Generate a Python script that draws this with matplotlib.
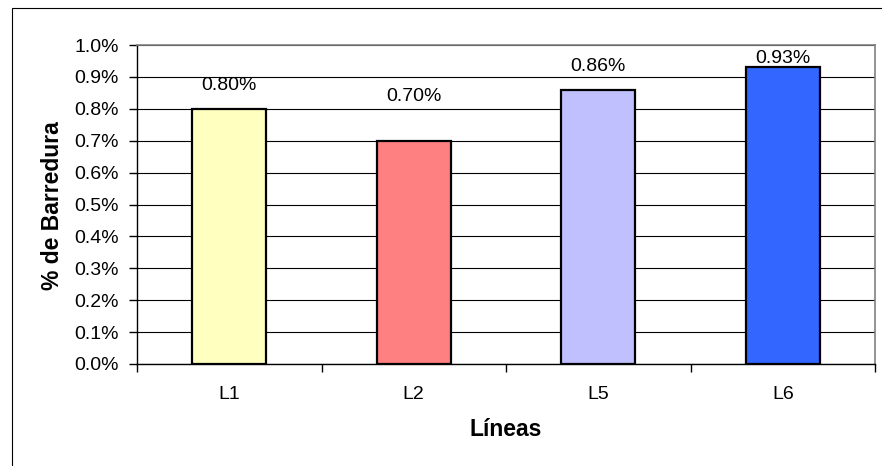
import matplotlib
matplotlib.use("Agg")
import matplotlib.pyplot as plt
from matplotlib.patches import Rectangle
from matplotlib.ticker import FuncFormatter, FixedLocator

# Data (values in percent)
categories = ["L1", "L2", "L5", "L6"]
barredura = [0.80, 0.70, 0.86, 0.93]
bar_colors = ["#FFFFC0", "#FF8080", "#C0C0FF", "#3366FF"]
# vertical placement of the value labels (in axis units)
label_y = [0.874, 0.838, 0.933, 0.958]
y_ticks = [0.0, 0.1, 0.2, 0.3, 0.4, 0.5, 0.6, 0.7, 0.8, 0.9, 1.0]

plt.rcParams["font.family"] = ["Liberation Sans", "DejaVu Sans"]

W, H = 882, 466
fig = plt.figure(figsize=(W / 100, H / 100), dpi=100)
fig.patch.set_facecolor("white")

# chart frame
fig.patches.append(Rectangle((12 / W, -0.1), 1.2, (H - 8) / H + 0.1,
                             transform=fig.transFigure, fill=False,
                             edgecolor="black", linewidth=0.8, clip_on=False))

ax = fig.add_axes([137 / W, (H - 364) / H, (875 - 137) / W, (364 - 45) / H])
x = list(range(len(categories)))
ax.bar(x, barredura, width=0.4, color=bar_colors, edgecolor="black",
       linewidth=1.6, zorder=3)

for xi, v, ly in zip(x, barredura, label_y):
    ax.text(xi, ly, f"{v:.2f}%", ha="center", va="center", fontsize=14,
            zorder=4)

ax.set_xlim(-0.5, 3.5)
ax.set_ylim(0, 1.0)
ax.set_yticks(y_ticks)
ax.yaxis.set_major_formatter(FuncFormatter(lambda v, p: f"{v:.1f}%"))
ax.yaxis.grid(True, color="black", linewidth=0.8, zorder=0)
ax.set_axisbelow(True)

# category labels centred, tick marks at category boundaries
ax.set_xticks(x)
ax.set_xticklabels(categories, fontsize=14)
ax.tick_params(axis="x", which="major", length=0, pad=16)
ax.xaxis.set_minor_locator(FixedLocator([-0.5, 0.5, 1.5, 2.5, 3.5]))
ax.tick_params(axis="x", which="minor", length=6, width=1, color="black")
ax.tick_params(axis="y", length=6, width=1, color="black", labelsize=14,
               pad=7)

for side in ("top", "right"):
    ax.spines[side].set_color("#808080")
    ax.spines[side].set_linewidth(1.2)
for side in ("left", "bottom"):
    ax.spines[side].set_color("black")
    ax.spines[side].set_linewidth(1.0)

fig.text(53 / W, 1 - 206 / H, "% de Barredura", rotation=90, ha="center",
         va="center", fontsize=16.5, fontweight="bold")
fig.text(506 / W, 1 - 430 / H, "Líneas", ha="center", va="center",
         fontsize=16.5, fontweight="bold")

fig.savefig("out.png", dpi=100, facecolor="white")
